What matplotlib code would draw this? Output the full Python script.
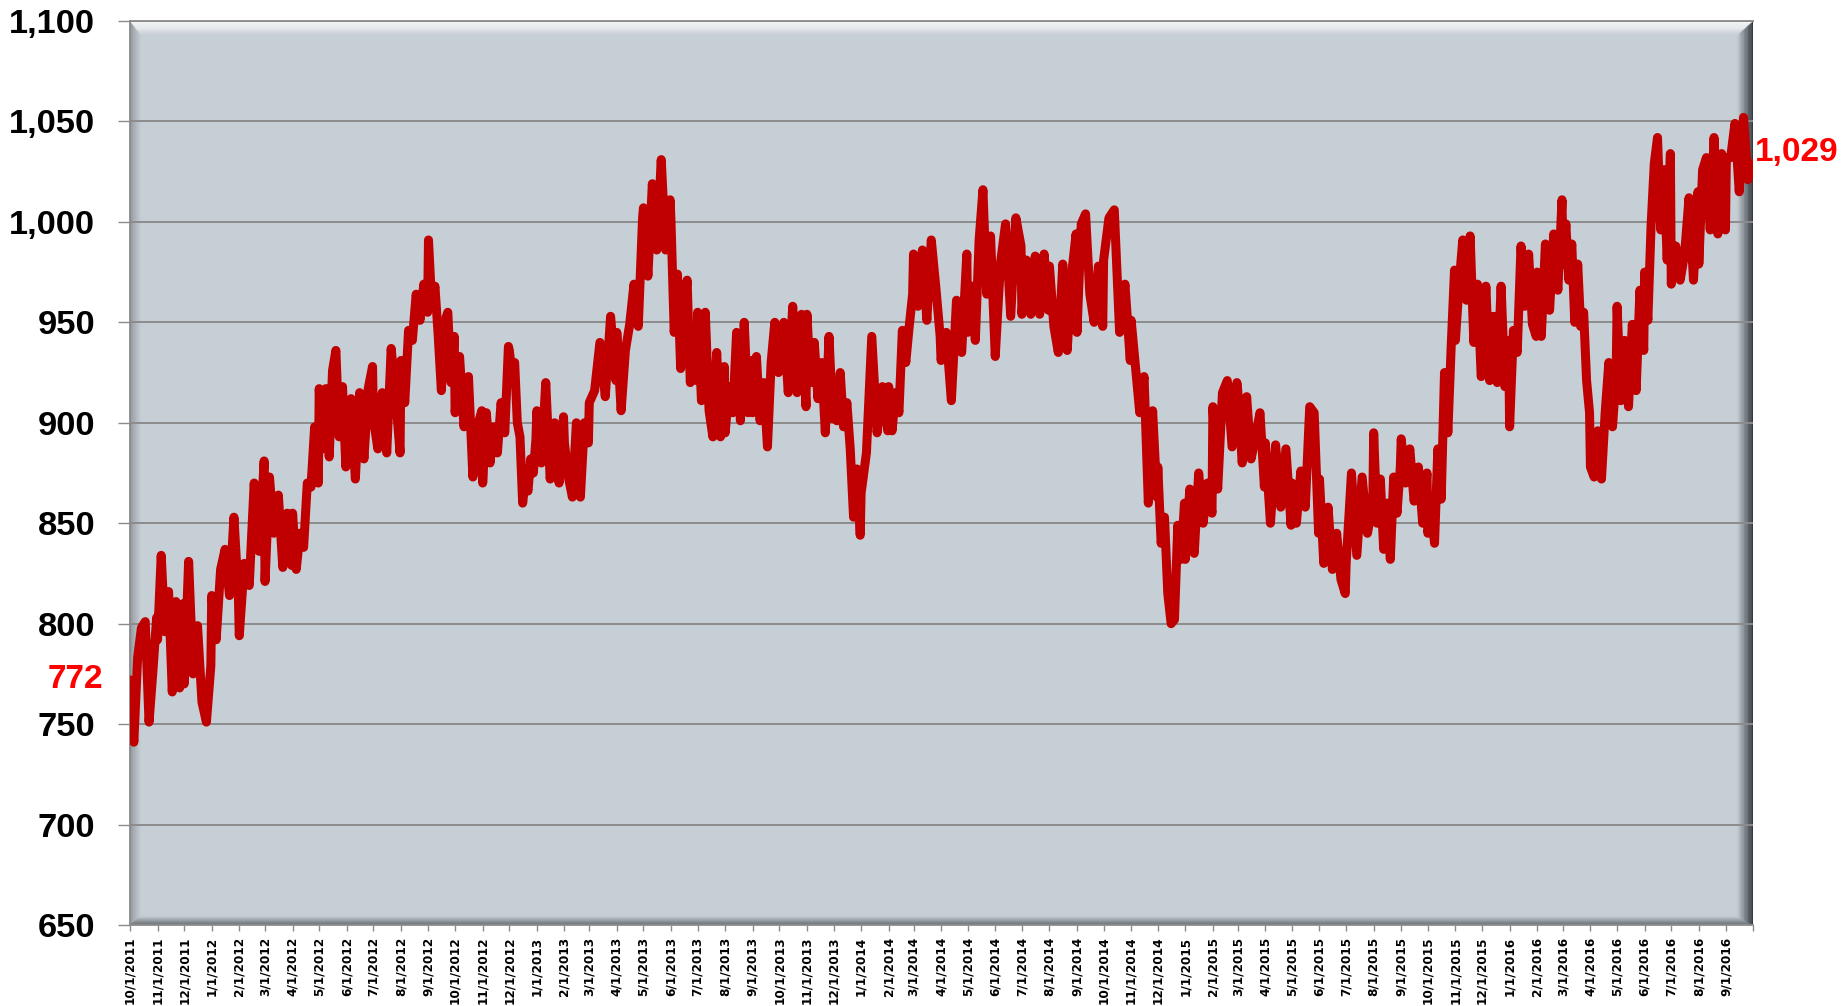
import numpy as np
import pandas as pd
import matplotlib
matplotlib.use('Agg')
import matplotlib.pyplot as plt
from matplotlib.patches import Polygon
from matplotlib.colors import to_rgb
from matplotlib.ticker import FuncFormatter


# values, one list per month (Oct 2011 .. Sep 2016)
y2011 = [
    [772, 741, 783, 798, 801, 751, 776, 803],
    [792, 834, 796, 816, 766, 811, 768, 810],
    [770, 831, 775, 799, 761, 751, 779],
]
y2012 = [
    [814, 792, 827, 837, 814, 853, 814],
    [794, 830, 819, 870, 836, 881],
    [821, 873, 845, 864, 828, 855, 829],
    [855, 827, 845, 838, 870, 868, 898, 870],
    [917, 887, 917, 883, 926, 936, 893, 918, 878],
    [902, 912, 872, 915, 882, 917, 928],
    [902, 887, 915, 885, 937, 913, 885],
    [931, 910, 946, 941, 964, 951, 969, 955],
    [991, 959, 968, 944, 916, 950, 955, 920, 943],
    [905, 933, 898, 923, 873, 898, 906],
    [870, 905, 880, 898, 885, 910, 895, 938],
    [936, 925, 930, 900, 893, 860, 872, 866, 882, 875, 892],
]
y2013 = [
    [906, 880, 920, 872, 900, 870, 903],
    [890, 873, 863, 900, 863, 900, 890],
    [910, 916, 940, 913, 953, 921],
    [945, 906, 936, 949, 969, 948, 1002],
    [1007, 973, 1019, 986, 1031, 986, 1011],
    [1000, 945, 974, 927, 953, 971, 920, 941, 921],
    [955, 911, 955, 906, 893, 935, 893, 928],
    [895, 918, 905, 945, 901, 950, 905, 931],
    [905, 933, 901, 920, 888, 930, 950, 925],
    [945, 950, 915, 958, 915, 954, 908],
    [954, 920, 940, 912, 930, 895, 943, 902],
    [918, 901, 925, 898, 910, 887, 853, 877, 844],
]
y2014 = [
    [865, 885, 943, 895, 918, 896],
    [918, 896, 915, 905, 946, 930, 948, 964],
    [984, 958, 986, 951, 991, 968, 943],
    [931, 945, 911, 961, 935, 984],
    [945, 968, 941, 991, 1016, 964, 993, 945],
    [933, 979, 999, 953, 1002, 988],
    [954, 981, 954, 983, 954, 984, 956],
    [978, 948, 935, 979, 936, 974, 994],
    [945, 999, 1004, 964, 950, 978, 948],
    [981, 1002, 1006, 945, 969, 931],
    [951, 928, 905, 923, 860, 906, 863],
    [878, 840, 853, 815, 800, 802, 849, 832, 860],
]
y2015 = [
    [832, 867, 835, 875, 850, 870, 855],
    [908, 867, 915, 921, 888, 920],
    [916, 880, 913, 882, 893, 905, 868],
    [890, 850, 889, 858, 887, 849],
    [870, 850, 876, 858, 908, 905, 845],
    [872, 830, 858, 827, 845, 822, 815],
    [830, 875, 834, 873, 845, 860],
    [895, 850, 872, 837, 860, 832, 873, 855, 878],
    [892, 870, 887, 861, 878, 850, 875],
    [845, 858, 840, 887, 862, 925, 895, 938, 976],
    [941, 969, 991, 961, 993, 940, 969, 923],
    [925, 968, 921, 953, 920, 968, 918, 941],
]
y2016 = [
    [898, 946, 935, 988, 958, 984, 949, 943],
    [975, 943, 989, 956, 994, 966, 1011],
    [979, 999, 971, 989, 950, 979, 948, 955, 921, 905],
    [878, 873, 896, 872, 905, 930, 898, 925],
    [958, 911, 941, 908, 949, 916, 966, 936],
    [975, 951, 998, 1029, 1042, 996, 1026, 981, 1034],
    [969, 988, 971, 984, 1012, 971, 1015],
    [979, 1026, 1032, 996, 1042, 994, 1034, 996],
    [1032, 1032, 1049, 1015, 1052, 1021, 1029],
]

y_ticks = [650, 700, 750, 800, 850, 900, 950, 1000, 1050, 1100]

# spread each month's readings over that month
monthly = y2011 + y2012 + y2013 + y2014 + y2015 + y2016
months = pd.date_range('2011-10-01', periods=len(monthly), freq='MS')
dates, values = [], []
for start, vals in zip(months, monthly):
    offs = np.linspace(0, start.days_in_month - 1, len(vals))
    dates.extend(start + pd.to_timedelta(offs, unit='D'))
    values.extend(vals)

bg = '#C7CFD6'
grey = '#8a8a8a'

fig = plt.figure(figsize=(18.43, 10.06), dpi=100)
ax = fig.add_axes([130 / 1843, 81 / 1006, 1623 / 1843, 904 / 1006])
ax.set_facecolor(bg)

# bevelled frame of the plot area (Excel style)
def bevel(ax, insets, outer, steps=12):
    W, H = 1623.0, 904.0
    dl, db, dr, dt = insets
    bgc = np.array(to_rgb(bg))

    def rect(t):
        return t * dl / W, t * db / H, 1 - t * dr / W, 1 - t * dt / H

    for k in range(steps):
        l0, b0, r0, t0 = rect(k / steps)
        l1, b1, r1, t1 = rect((k + 1) / steps)
        f = (k + 0.5) / steps
        sides = {
            'left': [(l0, b0), (l1, b1), (l1, t1), (l0, t0)],
            'bottom': [(l0, b0), (r0, b0), (r1, b1), (l1, b1)],
            'right': [(r0, b0), (r0, t0), (r1, t1), (r1, b1)],
            'top': [(l0, t0), (l1, t1), (r1, t1), (r0, t0)],
        }
        for side, pts in sides.items():
            ff = f ** 1.6 if side == 'top' else f
            col = np.array(to_rgb(outer[side])) * (1 - ff) + bgc * ff
            ax.add_patch(Polygon(pts, closed=True, transform=ax.transAxes,
                                 facecolor=col, edgecolor=col, lw=0.3, zorder=1))

bevel(ax, (11, 9, 16, 14),
      {'left': '#8f959a', 'bottom': '#5d6368', 'right': '#2e3338', 'top': '#f6f8f9'})

ax.plot(dates, values, color='#C00000', lw=6.5, solid_joinstyle='round',
        solid_capstyle='round', zorder=3)

ax.set_xlim(pd.Timestamp('2011-10-01'), pd.Timestamp('2016-10-01'))
ax.set_ylim(y_ticks[0], y_ticks[-1])

# x axis: a tick each month start
xt = pd.date_range('2011-10-01', '2016-10-01', freq='MS')
ax.set_xticks(xt)
ax.set_xticklabels([f"{d.month}/{d.day}/{d.year}" for d in xt[:-1]] + [''],
                   rotation=90, fontsize=8.7, fontweight='bold', family='DejaVu Sans')

ax.set_yticks(y_ticks)
ax.yaxis.set_major_formatter(FuncFormatter(lambda v, p: f"{int(v):,}"))
for lbl in ax.get_yticklabels():
    lbl.set_fontfamily('Liberation Sans')
    lbl.set_fontweight('bold')
    lbl.set_fontsize(24.8)

ax.tick_params(axis='x', length=4.3, width=1, color=grey, pad=4)
ax.tick_params(axis='y', length=8.6, width=1, color=grey, pad=16.5)

# grid
ax.yaxis.grid(True, color='#8c8c8c', lw=1.4)

for s in ['left', 'bottom', 'top']:
    ax.spines[s].set_color(grey)
    ax.spines[s].set_linewidth(1.3)
ax.spines['right'].set_visible(False)

# first / last value labels
ax.annotate(f"{values[0]:,}", xy=(0, values[0]), xycoords=('axes fraction', 'data'),
            xytext=(-19.4, 0), textcoords='offset points', ha='right', va='center',
            color='red', fontsize=24, fontweight='bold', family='Liberation Sans')
ax.annotate(f"{values[-1]:,}", xy=(1, values[-1]), xycoords=('axes fraction', 'data'),
            xytext=(1.5, 8), textcoords='offset points', ha='left', va='center',
            color='red', fontsize=24, fontweight='bold', family='Liberation Sans')

fig.savefig('out.png', dpi=100)
